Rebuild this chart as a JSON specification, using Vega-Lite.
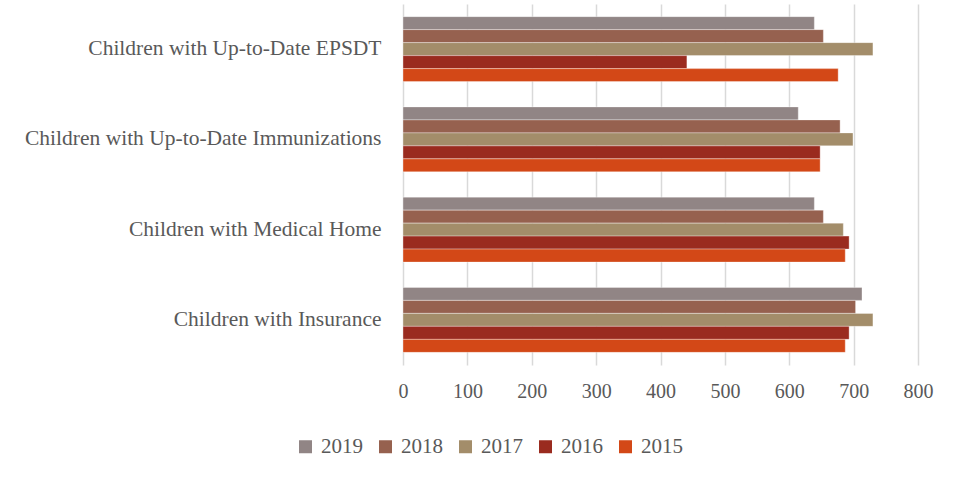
{
  "$schema": "https://vega.github.io/schema/vega-lite/v6.json",
  "autosize": {"type": "none"},
  "width": 515,
  "height": 361,
  "padding": {"left": 403, "top": 4, "right": 44, "bottom": 122},
  "background": "white",
  "config": {
    "font": "Liberation Serif",
    "view": {"stroke": null}
  },
  "data": {
    "values": [
      {"category": "Children with Up-to-Date EPSDT", "year": "2019", "value": 639},
      {"category": "Children with Up-to-Date EPSDT", "year": "2018", "value": 653},
      {"category": "Children with Up-to-Date EPSDT", "year": "2017", "value": 730},
      {"category": "Children with Up-to-Date EPSDT", "year": "2016", "value": 441},
      {"category": "Children with Up-to-Date EPSDT", "year": "2015", "value": 676},
      {"category": "Children with Up-to-Date Immunizations", "year": "2019", "value": 614},
      {"category": "Children with Up-to-Date Immunizations", "year": "2018", "value": 679},
      {"category": "Children with Up-to-Date Immunizations", "year": "2017", "value": 699},
      {"category": "Children with Up-to-Date Immunizations", "year": "2016", "value": 648},
      {"category": "Children with Up-to-Date Immunizations", "year": "2015", "value": 648},
      {"category": "Children with Medical Home", "year": "2019", "value": 639},
      {"category": "Children with Medical Home", "year": "2018", "value": 653},
      {"category": "Children with Medical Home", "year": "2017", "value": 684},
      {"category": "Children with Medical Home", "year": "2016", "value": 693},
      {"category": "Children with Medical Home", "year": "2015", "value": 687},
      {"category": "Children with Insurance", "year": "2019", "value": 713},
      {"category": "Children with Insurance", "year": "2018", "value": 703},
      {"category": "Children with Insurance", "year": "2017", "value": 730},
      {"category": "Children with Insurance", "year": "2016", "value": 693},
      {"category": "Children with Insurance", "year": "2015", "value": 687}
    ]
  },
  "mark": {"type": "bar", "stroke": "white", "strokeOpacity": 0.35, "strokeWidth": 1},
  "encoding": {
    "y": {
      "field": "category",
      "type": "nominal",
      "sort": null,
      "scale": {"paddingInner": 0.28, "paddingOuter": 0.14},
      "axis": {
        "title": null,
        "domain": false,
        "ticks": false,
        "labelPadding": 22,
        "labelFontSize": 21.5,
        "labelColor": "#595959",
        "labelLimit": 400
      }
    },
    "yOffset": {
      "field": "year",
      "type": "nominal",
      "sort": "descending",
      "scale": {"paddingInner": 0, "paddingOuter": 0}
    },
    "x": {
      "field": "value",
      "type": "quantitative",
      "scale": {"domain": [0, 800], "nice": false},
      "axis": {
        "title": null,
        "values": [0, 100, 200, 300, 400, 500, 600, 700, 800],
        "domain": false,
        "ticks": false,
        "grid": true,
        "gridColor": "#d9d9d9",
        "gridWidth": 1.5,
        "labelFlush": false,
        "labelPadding": 16,
        "labelFontSize": 20,
        "labelColor": "#595959"
      }
    },
    "color": {
      "field": "year",
      "type": "nominal",
      "sort": "descending",
      "scale": {
        "domain": ["2019", "2018", "2017", "2016", "2015"],
        "range": ["#918585", "#96614F", "#A38D6A", "#9A2B1F", "#D34817"]
      },
      "legend": {
        "title": null,
        "orient": "none",
        "direction": "horizontal",
        "legendX": -108,
        "legendY": 432,
        "symbolType": "square",
        "symbolSize": 169,
        "symbolStrokeWidth": 0,
        "symbolOpacity": 1,
        "labelFontSize": 21,
        "labelColor": "#595959",
        "labelOffset": 5,
        "columnPadding": 12
      }
    }
  }
}
